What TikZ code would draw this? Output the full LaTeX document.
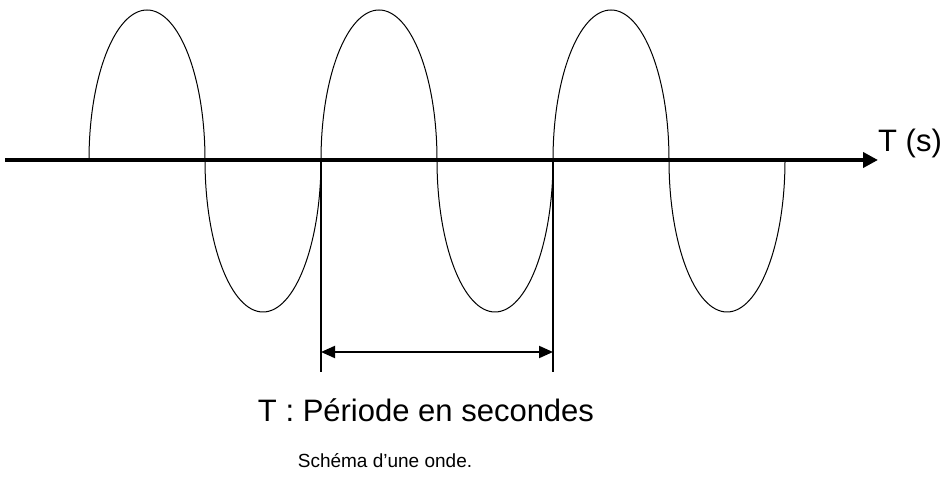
\documentclass[tikz,border=0pt]{standalone}
\usepackage{fontspec}
\setmainfont{Liberation Sans}
\usetikzlibrary{arrows.meta}
\begin{document}
\begin{tikzpicture}[x=1pt,y=1pt,
  axisline/.style={line width=4pt,-{Triangle[length=15pt,width=15pt]}},
  wave/.style={line width=1pt},
  marker/.style={line width=2pt},
  dimarrow/.style={line width=2pt,{Triangle[length=14pt,width=12pt]}-{Triangle[length=14pt,width=12pt]}},
  bigtext/.style={inner sep=0pt,font=\fontsize{31}{36}\selectfont},
  smalltext/.style={inner sep=0pt,font=\fontsize{19}{23}\selectfont}]
\useasboundingbox (0,0) rectangle (944,479);
% axis
\coordinate (a0) at (5,319);
\coordinate (a1) at (878,319);
\draw[axisline] (a0) -- (a1);
% wave
\draw[wave] (89,319) arc[start angle=180,end angle=0,x radius=58pt,y radius=150pt]
  arc[start angle=180,end angle=360,x radius=58pt,y radius=152pt]
  arc[start angle=180,end angle=0,x radius=58pt,y radius=150pt]
  arc[start angle=180,end angle=360,x radius=58pt,y radius=152pt]
  arc[start angle=180,end angle=0,x radius=58pt,y radius=150pt]
  arc[start angle=180,end angle=360,x radius=58pt,y radius=152pt];
% period markers
\coordinate (p1t) at (321,319);
\coordinate (p1b) at (321,107);
\coordinate (p2t) at (553,319);
\coordinate (p2b) at (553,107);
\draw[marker] (p1t) -- (p1b);
\draw[marker] (p2t) -- (p2b);
\coordinate (d1) at (321,127);
\coordinate (d2) at (553,127);
\draw[dimarrow] (d1) -- (d2);
% texts
\node[bigtext,anchor=base west] (ts) at (878,327) {T (s)};
\node[bigtext,anchor=base] (per) at (426,58) {T : Période en secondes};
\node[smalltext,anchor=base] (cap) at (385,12) {Schéma d’une onde.};
\end{tikzpicture}
\end{document}
